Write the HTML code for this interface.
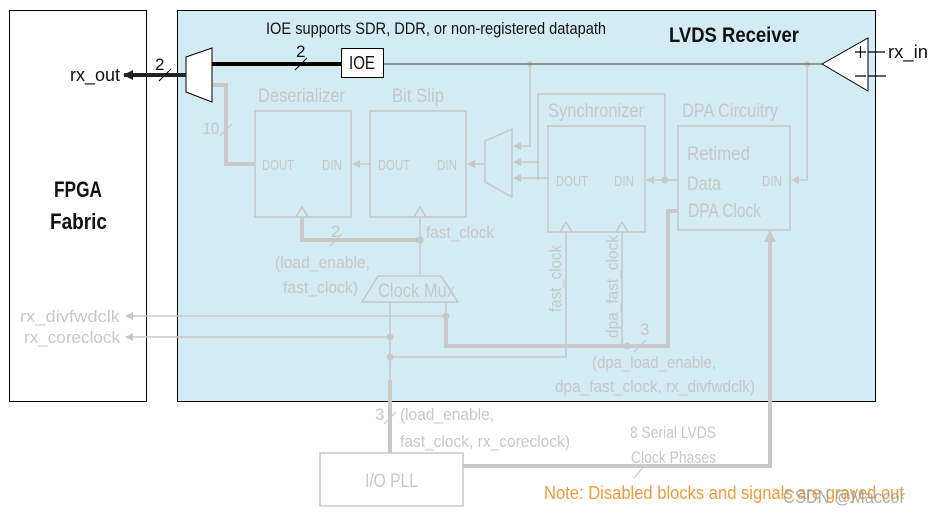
<!DOCTYPE html>
<html><head><meta charset="utf-8"><style>
body{margin:0;background:#fff}
svg{display:block;font-family:"Liberation Sans Narrow","Liberation Sans",sans-serif}
.g{fill:#c8c8c8}
.k{fill:#111}
</style></head><body>
<svg width="935" height="516" viewBox="0 0 935 516" xmlns="http://www.w3.org/2000/svg">
<defs>
<marker id="ag" markerWidth="8" markerHeight="8" refX="7" refY="4" orient="auto" markerUnits="userSpaceOnUse"><path d="M0,0 L8,4 L0,8 Z" fill="#c8c8c8"/></marker>
<marker id="ak" markerWidth="10" markerHeight="10" refX="9" refY="5" orient="auto" markerUnits="userSpaceOnUse"><path d="M0,0 L10,5 L0,10 Z" fill="#222"/></marker>
</defs>
<rect x="9.5" y="10.5" width="137" height="391" fill="#fff" stroke="#000"/>
<rect x="177.5" y="10.5" width="698" height="391" fill="#d3ecf3" stroke="#000"/>
<text x="54" y="197" font-size="22" font-weight="bold" class="k" textLength="48" lengthAdjust="spacingAndGlyphs">FPGA</text>
<text x="50" y="229" font-size="22" font-weight="bold" class="k" textLength="57" lengthAdjust="spacingAndGlyphs">Fabric</text>
<text x="266" y="34" font-size="17" class="k" textLength="340" lengthAdjust="spacingAndGlyphs">IOE supports SDR, DDR, or non-registered datapath</text>
<text x="669" y="42" font-size="21" font-weight="bold" class="k" textLength="130" lengthAdjust="spacingAndGlyphs">LVDS Receiver</text>

<g stroke="#c8c8c8" fill="none" stroke-width="1.5">
<rect x="255" y="111" width="96" height="106"/>
<rect x="370" y="111" width="96" height="106"/>
<path d="M538,180 L538,94 L665,94 L665,180"/>
<rect x="548" y="126" width="97" height="106"/>
<rect x="678" y="126" width="112" height="104"/>
<path d="M485,141 L512,129 L512,197 L485,182 Z"/>
<path d="M378,276 L441,276 L458,302 L362,302 Z"/>
<rect x="320" y="453" width="143" height="53"/>
<path d="M296,217 L302,207 L308,217 M414,217 L420,207 L426,217 M560,232 L566,222 L572,232 M616,232 L622,222 L628,232"/>
<path d="M530,64 L530,146 L514,146" marker-end="url(#ag)"/>
<path d="M538,162 L514,162" marker-end="url(#ag)"/>
<path d="M548,178 L514,178" marker-end="url(#ag)"/>
<path d="M484,164 L468,164" marker-end="url(#ag)"/>
<path d="M370,164 L353,164" marker-end="url(#ag)"/>
<path d="M678,180 L647,180" marker-end="url(#ag)"/>
<path d="M807,64 L807,180 L792,180" marker-end="url(#ag)"/>
<path d="M420,217 L420,276"/>
<path d="M446,302 L446,316 L126,316" marker-end="url(#ag)"/>
<path d="M390,337 L126,337" marker-end="url(#ag)"/>
<path d="M390,302 L390,453"/>
<path d="M390,357 L566,357 L566,232"/>
<path d="M622,232 L622,346"/>
</g>
<g stroke="#c8c8c8" fill="none" stroke-width="4">
<path d="M213,85 L226,85 L226,164 L255,164"/>
<path d="M302,217 L302,240 L420,240"/>
<path d="M446,316 L446,346 L668,346 L668,211 L678,211"/>
<path d="M463,466 L770,466 L770,240"/>
<path d="M390,380 L390,453"/>
</g>
<path d="M764,242 L770,230 L776,242 Z" fill="#c8c8c8"/>
<g fill="#c8c8c8">
<circle cx="530" cy="64" r="3"/><circle cx="807" cy="64" r="3"/>
<circle cx="665" cy="180" r="3.5"/><circle cx="420" cy="240" r="3.5"/>
<circle cx="446" cy="316" r="3.5"/><circle cx="390" cy="337" r="3.5"/>
<circle cx="390" cy="357" r="3.5"/><circle cx="627" cy="346" r="3.5"/>
</g>
<g stroke="#c8c8c8" stroke-width="1.2">
<line x1="220" y1="136" x2="232" y2="124"/>
<line x1="330" y1="246" x2="342" y2="234"/>
<line x1="634" y1="352" x2="646" y2="340"/>
<line x1="384" y1="424" x2="396" y2="412"/>
<line x1="634" y1="478" x2="646" y2="464"/>
</g>

<g class="g" font-size="19" lengthAdjust="spacingAndGlyphs">
<text x="258" y="102" textLength="87" lengthAdjust="spacingAndGlyphs">Deserializer</text>
<text x="392" y="102" textLength="52" lengthAdjust="spacingAndGlyphs">Bit Slip</text>
<text x="548" y="117" textLength="96" lengthAdjust="spacingAndGlyphs">Synchronizer</text>
<text x="682" y="117" textLength="96" lengthAdjust="spacingAndGlyphs">DPA Circuitry</text>
<text x="687" y="160" textLength="63" lengthAdjust="spacingAndGlyphs">Retimed</text>
<text x="687" y="190" textLength="34" lengthAdjust="spacingAndGlyphs">Data</text>
<text x="688" y="217" textLength="73" lengthAdjust="spacingAndGlyphs">DPA Clock</text>
<text x="378" y="297" textLength="77" lengthAdjust="spacingAndGlyphs">Clock Mux</text>
<text x="365" y="487" textLength="53" lengthAdjust="spacingAndGlyphs">I/O PLL</text>
</g>
<g class="g" font-size="15">
<text x="262" y="170" textLength="32" lengthAdjust="spacingAndGlyphs">DOUT</text><text x="322" y="170" textLength="20" lengthAdjust="spacingAndGlyphs">DIN</text>
<text x="378" y="170" textLength="32" lengthAdjust="spacingAndGlyphs">DOUT</text><text x="437" y="170" textLength="20" lengthAdjust="spacingAndGlyphs">DIN</text>
<text x="556" y="186" textLength="32" lengthAdjust="spacingAndGlyphs">DOUT</text><text x="614" y="186" textLength="20" lengthAdjust="spacingAndGlyphs">DIN</text>
<text x="762" y="186" textLength="20" lengthAdjust="spacingAndGlyphs">DIN</text>
</g>
<g class="g" font-size="17">
<text x="203" y="134" textLength="16" lengthAdjust="spacingAndGlyphs">10</text>
<text x="331" y="237">2</text>
<text x="275" y="268" textLength="95" lengthAdjust="spacingAndGlyphs">(load_enable,</text>
<text x="283" y="293" textLength="75" lengthAdjust="spacingAndGlyphs">fast_clock)</text>
<text x="426" y="238" textLength="68" lengthAdjust="spacingAndGlyphs">fast_clock</text>
<text x="561" y="312" transform="rotate(-90 561 312)" textLength="67" lengthAdjust="spacingAndGlyphs">fast_clock</text>
<text x="618" y="338" transform="rotate(-90 618 338)" textLength="103" lengthAdjust="spacingAndGlyphs">dpa_fast_clock</text>
<text x="640" y="335">3</text>
<text x="592" y="368" textLength="124" lengthAdjust="spacingAndGlyphs">(dpa_load_enable,</text>
<text x="555" y="392" textLength="200" lengthAdjust="spacingAndGlyphs">dpa_fast_clock, rx_divfwdclk)</text>
<text x="20" y="322" textLength="100" lengthAdjust="spacingAndGlyphs">rx_divfwdclk</text>
<text x="24" y="343" textLength="96" lengthAdjust="spacingAndGlyphs">rx_coreclock</text>
<text x="375" y="420">3</text>
<text x="400" y="420" textLength="94" lengthAdjust="spacingAndGlyphs">(load_enable,</text>
<text x="400" y="447" textLength="170" lengthAdjust="spacingAndGlyphs">fast_clock, rx_coreclock)</text>
<text x="630" y="438" textLength="86" lengthAdjust="spacingAndGlyphs">8 Serial LVDS</text>
<text x="631" y="463" textLength="85" lengthAdjust="spacingAndGlyphs">Clock Phases</text>
</g>

<path d="M383,64 L822,64" stroke="#777" stroke-width="1.5"/>
<path d="M822,64 L868,38 L868,91 Z" fill="#fff" stroke="#000" stroke-width="1"/>
<path d="M855,52 L866,52 M860.5,46 L860.5,58 M855,76 L866,76 M868,52 L885,52 M868,76 L886,76" stroke="#000" stroke-width="1.2"/>
<text x="888" y="58" font-size="18" class="k" textLength="40" lengthAdjust="spacingAndGlyphs">rx_in</text>
<path d="M212,64 L341,64" stroke="#000" stroke-width="4"/>
<rect x="341.5" y="48.5" width="42" height="29" fill="#fff" stroke="#000"/>
<text x="349" y="69" font-size="18" class="k" textLength="26" lengthAdjust="spacingAndGlyphs">IOE</text>
<path d="M186,57 L212,48 L212,102 L186,92 Z" fill="#fff" stroke="#000"/>
<path d="M186,75 L124,75" stroke="#222" stroke-width="4" marker-end="url(#ak)"/>
<text x="70" y="81" font-size="18" class="k" textLength="50" lengthAdjust="spacingAndGlyphs">rx_out</text>
<text x="155" y="70" font-size="17" class="k">2</text>
<text x="296" y="57" font-size="17" class="k">2</text>
<path d="M159,81 L171,69 M295,70 L307,58" stroke="#000" stroke-width="1"/>

<text x="544" y="499" font-size="18" fill="#f39a3a" textLength="360" lengthAdjust="spacingAndGlyphs">Note: Disabled blocks and signals are grayed out</text>
<text x="783" y="503" font-size="18" fill="#9a9a9a" opacity="0.8" textLength="122" lengthAdjust="spacingAndGlyphs">CSDN @Maccor</text>
</svg>
</body></html>
